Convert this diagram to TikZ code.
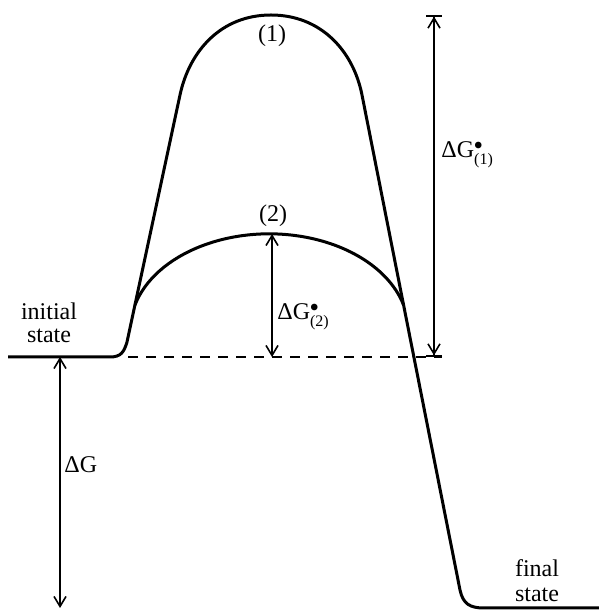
\documentclass[tikz,border=0pt]{standalone}
\usepackage{amsmath}
\usepackage{fontspec}
\setmainfont{Liberation Serif}
\usetikzlibrary{arrows.meta}

\tikzset{
  curve/.style={line width=1.5pt},
  dim/.style={line width=0.8pt,
    {Straight Barb[length=5pt,width=6pt]}-{Straight Barb[length=5pt,width=6pt]}},
  bardim/.style={line width=0.8pt,
    {Bar[width=8pt]Straight Barb[length=5pt,width=6pt]}-{Straight Barb[length=5pt,width=6pt]Bar[width=8pt]}},
  lab/.style={font=\fontsize{12}{11.5}\selectfont,inner sep=0pt},
}

\begin{document}
\begin{tikzpicture}[x=0.5pt,y=0.5pt]
  \useasboundingbox (0,0) rectangle (599,610);
  % profile (1) with initial and final state
  \draw[curve] (8,253) -- (110,253) .. controls (121,253) and (124,258) .. (127,268)
    -- (180,515) .. controls (189.4,559) and (221,595) .. (271,595)
    .. controls (321,595) and (353.3,559) .. (362,515)
    -- (460,20) .. controls (463,6) and (470,2) .. (484,2) -- (599,2);
  % profile (2)
  \draw[curve] (135,305) arc[start angle=165,end angle=15,x radius=139,y radius=96];
  \draw[line width=0.8pt,dash pattern=on 5pt off 4pt] (128,253) -- (442,253);
  % ends of the arrows
  \coordinate (top1) at (434,595);
  \coordinate (base1) at (434,253);
  \coordinate (top2) at (272,376);
  \coordinate (base2) at (272,253);
  \coordinate (initG) at (60,253);
  \coordinate (finalG) at (60,2);
  \draw[bardim] (top1) -- (base1);
  \draw[dim] (top2) -- (base2);
  \draw[dim] (initG) -- (finalG);
  % labels
  \node[lab] (peak1) at (272,574) {(1)};
  \node[lab] (peak2) at (273,394) {(2)};
  \node[lab,anchor=base west] (dg1) at (441,452) {ΔG$^{\bullet}_{\text{(1)}}$};
  \node[lab,anchor=base west] (dg2) at (277,290) {ΔG$^{\bullet}_{\text{(2)}}$};
  \node[lab,anchor=base west] (dg) at (64,137) {ΔG};
  \node[lab,align=center] (initial) at (49,287) {initial\\state};
  \node[lab,align=center,font=\fontsize{12}{12.5}\selectfont] (final) at (537,29) {final\\state};
\end{tikzpicture}
\end{document}
